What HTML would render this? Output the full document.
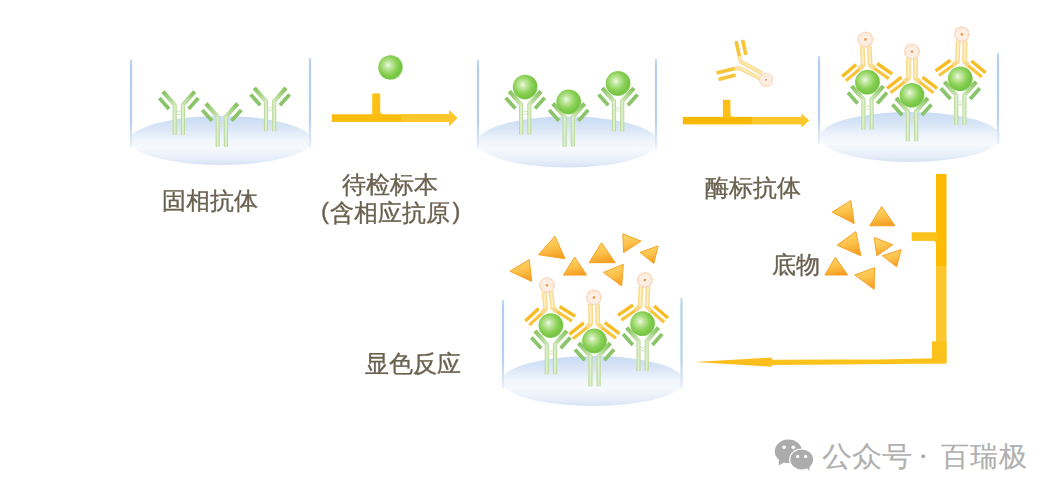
<!DOCTYPE html>
<html><head><meta charset="utf-8"><style>
html,body{margin:0;padding:0;background:#fff;width:1059px;height:498px;overflow:hidden}
body{position:relative;font-family:"Liberation Sans",sans-serif}
.t{position:absolute;white-space:nowrap;line-height:1;-webkit-text-stroke:0.35px #6a6150}
.w{position:absolute;white-space:nowrap;line-height:1;font-size:28px;color:#b0b0b0;-webkit-text-stroke:0.15px #b0b0b0;transform-origin:0 0;transform:scaleX(1.075)}
</style></head><body>
<svg width="1059" height="498" viewBox="0 0 1059 498" style="position:absolute;left:0;top:0">
<defs>
<filter id="soft" x="-5%" y="-5%" width="110%" height="110%"><feGaussianBlur stdDeviation="0.35"/></filter>
<linearGradient id="gEll" x1="0" y1="0" x2="0" y2="1">
 <stop offset="0" stop-color="#c9dbf3"/>
 <stop offset="0.25" stop-color="#d9e6f7"/>
 <stop offset="0.5" stop-color="#f2f6fc"/>
 <stop offset="0.65" stop-color="#f6f9fd"/>
 <stop offset="0.88" stop-color="#e6eef9"/>
 <stop offset="1" stop-color="#d6e2f5"/>
</linearGradient>
<linearGradient id="gWall" x1="0" y1="0" x2="0" y2="1">
 <stop offset="0" stop-color="#c8dcf3"/>
 <stop offset="0.08" stop-color="#b2cdee"/>
 <stop offset="0.7" stop-color="#b6d0ef"/>
 <stop offset="1" stop-color="#eaf1fb"/>
</linearGradient>
<linearGradient id="gDiagL" gradientUnits="userSpaceOnUse" x1="-15.8" y1="-43.2" x2="-4.1" y2="-30">
 <stop offset="0" stop-color="#84c25e"/>
 <stop offset="0.45" stop-color="#a4d384"/>
 <stop offset="1" stop-color="#cfe6b8"/>
</linearGradient>
<linearGradient id="gDiagR" gradientUnits="userSpaceOnUse" x1="15.8" y1="-43.2" x2="4.1" y2="-30">
 <stop offset="0" stop-color="#84c25e"/>
 <stop offset="0.45" stop-color="#a4d384"/>
 <stop offset="1" stop-color="#cfe6b8"/>
</linearGradient>
<radialGradient id="gBall" cx="0.42" cy="0.42" r="0.6" fx="0.4" fy="0.4">
 <stop offset="0" stop-color="#eef9e4"/>
 <stop offset="0.25" stop-color="#bfe69c"/>
 <stop offset="0.62" stop-color="#88d054"/>
 <stop offset="0.9" stop-color="#74c342"/>
 <stop offset="1" stop-color="#94d46e"/>
</radialGradient>
<linearGradient id="gTri" x1="0.35" y1="0" x2="0.6" y2="1">
 <stop offset="0" stop-color="#fdd66e"/>
 <stop offset="0.5" stop-color="#fcc24a"/>
 <stop offset="1" stop-color="#f59c22"/>
</linearGradient>
<g id="abg">
 <path d="M-4.1,0 V-30 L-15.8,-43.2 M4.1,0 V-30 L15.8,-43.2" fill="none" stroke="#bddb9e" stroke-width="4.2"/>
 <path d="M-4.1,0 V-30 L-14.7,-42 M4.1,0 V-30 L14.7,-42" fill="none" stroke="#dcefcb" stroke-width="2"/>
 <path d="M-4.1,-30 L-15.8,-43.2" stroke="url(#gDiagL)" stroke-width="3.9"/>
 <path d="M4.1,-30 L15.8,-43.2" stroke="url(#gDiagR)" stroke-width="3.9"/>
 <path d="M-1.8,-23.2 H1.8 M-1.8,-20.4 H1.8" stroke="#cfe5b7" stroke-width="1"/>
 <path d="M-19.5,-36.8 L-9.8,-26 M19.5,-36.8 L9.8,-26" stroke="#8bc56a" stroke-width="3.8"/>
</g>


</defs>
<g filter="url(#soft)">
<ellipse cx="221" cy="140.5" rx="91" ry="24.5" fill="url(#gEll)"/><rect x="129.9" y="59.5" width="2.2" height="88.0" fill="url(#gWall)"/><rect x="308.9" y="58" width="2.2" height="89.5" fill="url(#gWall)"/><ellipse cx="567.5" cy="142" rx="90" ry="25.5" fill="url(#gEll)"/><rect x="476.9" y="60" width="2.2" height="89" fill="url(#gWall)"/><rect x="654.9" y="59" width="2.2" height="90" fill="url(#gWall)"/><ellipse cx="910" cy="137" rx="90.5" ry="25" fill="url(#gEll)"/><rect x="817.9" y="56" width="2.2" height="88" fill="url(#gWall)"/><rect x="996.9" y="53" width="2.2" height="91" fill="url(#gWall)"/><ellipse cx="593" cy="381" rx="91" ry="25" fill="url(#gEll)"/><rect x="501.9" y="300" width="2.2" height="88" fill="url(#gWall)"/><rect x="680.4" y="298" width="2.2" height="90" fill="url(#gWall)"/><use href="#abg" x="178.8" y="134.9"/><use href="#abg" x="221.8" y="146.8"/><use href="#abg" x="270.1" y="131.2"/><use href="#abg" x="525.2" y="134.6"/><circle cx="525.2" cy="87.1" r="12.4" fill="url(#gBall)"/><use href="#abg" x="568.7" y="146.8"/><circle cx="568.7" cy="102.00000000000001" r="12.4" fill="url(#gBall)"/><use href="#abg" x="618.1" y="131.3"/><circle cx="618.1" cy="83.50000000000001" r="12.4" fill="url(#gBall)"/><g transform="translate(867.5,82.2) rotate(-2.8)"><path d="M-3.5,-36.2 V-17.5 L-7.5,-13.3 M3.5,-36.2 V-17.5 L7.5,-13.3" fill="none" stroke="#fbd98a" stroke-width="4.8"/><path d="M-3.5,-36.2 V-17.5 M3.5,-36.2 V-17.5" fill="none" stroke="#fdefc6" stroke-width="2"/><path d="M-21.5,-2.5 L-7.5,-13.3 M21.5,-2.5 L7.5,-13.3" stroke="#f8c43c" stroke-width="3.2"/><path d="M-25,-7 L-10.5,-18.2 M25,-7 L10.5,-18.2" stroke="#f6bd26" stroke-width="3.4"/><circle cx="0" cy="-42.7" r="7" fill="#fff4ec" stroke="#f9d0b0" stroke-width="2" stroke-dasharray="1.5 0.7"/><circle cx="0" cy="-42.7" r="4.2" fill="none" stroke="#fbe2cf" stroke-width="0.9"/><circle cx="0" cy="-42.7" r="1.5" fill="#eea25e"/></g><use href="#abg" x="867.5" y="129.4"/><circle cx="867.5" cy="82.2" r="12.4" fill="url(#gBall)"/><g transform="translate(912,95.30000000000001) rotate(0)"><path d="M-3.5,-37.3 V-17.5 L-7.5,-13.3 M3.5,-37.3 V-17.5 L7.5,-13.3" fill="none" stroke="#fbd98a" stroke-width="4.8"/><path d="M-3.5,-37.3 V-17.5 M3.5,-37.3 V-17.5" fill="none" stroke="#fdefc6" stroke-width="2"/><path d="M-21.5,-2.5 L-7.5,-13.3 M21.5,-2.5 L7.5,-13.3" stroke="#f8c43c" stroke-width="3.2"/><path d="M-25,-7 L-10.5,-18.2 M25,-7 L10.5,-18.2" stroke="#f6bd26" stroke-width="3.4"/><circle cx="0" cy="-43.8" r="7" fill="#fff4ec" stroke="#f9d0b0" stroke-width="2" stroke-dasharray="1.5 0.7"/><circle cx="0" cy="-43.8" r="4.2" fill="none" stroke="#fbe2cf" stroke-width="0.9"/><circle cx="0" cy="-43.8" r="1.5" fill="#eea25e"/></g><use href="#abg" x="912" y="141.3"/><circle cx="912" cy="95.30000000000001" r="12.4" fill="url(#gBall)"/><g transform="translate(960.3,78.8) rotate(2)"><path d="M-3.5,-38.0 V-17.5 L-7.5,-13.3 M3.5,-38.0 V-17.5 L7.5,-13.3" fill="none" stroke="#fbd98a" stroke-width="4.8"/><path d="M-3.5,-38.0 V-17.5 M3.5,-38.0 V-17.5" fill="none" stroke="#fdefc6" stroke-width="2"/><path d="M-21.5,-2.5 L-7.5,-13.3 M21.5,-2.5 L7.5,-13.3" stroke="#f8c43c" stroke-width="3.2"/><path d="M-25,-7 L-10.5,-18.2 M25,-7 L10.5,-18.2" stroke="#f6bd26" stroke-width="3.4"/><circle cx="0" cy="-44.5" r="7" fill="#fff4ec" stroke="#f9d0b0" stroke-width="2" stroke-dasharray="1.5 0.7"/><circle cx="0" cy="-44.5" r="4.2" fill="none" stroke="#fbe2cf" stroke-width="0.9"/><circle cx="0" cy="-44.5" r="1.5" fill="#eea25e"/></g><use href="#abg" x="960.3" y="125.1"/><circle cx="960.3" cy="78.8" r="12.4" fill="url(#gBall)"/><g transform="translate(550.9,325.59999999999997) rotate(-5.5)"><path d="M-3.5,-34.0 V-17.5 L-7.5,-13.3 M3.5,-34.0 V-17.5 L7.5,-13.3" fill="none" stroke="#fbd98a" stroke-width="4.8"/><path d="M-3.5,-34.0 V-17.5 M3.5,-34.0 V-17.5" fill="none" stroke="#fdefc6" stroke-width="2"/><path d="M-21.5,-2.5 L-7.5,-13.3 M21.5,-2.5 L7.5,-13.3" stroke="#f8c43c" stroke-width="3.2"/><path d="M-25,-7 L-10.5,-18.2 M25,-7 L10.5,-18.2" stroke="#f6bd26" stroke-width="3.4"/><circle cx="0" cy="-40.5" r="7" fill="#fff4ec" stroke="#f9d0b0" stroke-width="2" stroke-dasharray="1.5 0.7"/><circle cx="0" cy="-40.5" r="4.2" fill="none" stroke="#fbe2cf" stroke-width="0.9"/><circle cx="0" cy="-40.5" r="1.5" fill="#eea25e"/></g><use href="#abg" x="550.9" y="374.2"/><circle cx="550.9" cy="325.59999999999997" r="12.4" fill="url(#gBall)"/><g transform="translate(594.5,341.0) rotate(-0.8)"><path d="M-3.5,-37.0 V-17.5 L-7.5,-13.3 M3.5,-37.0 V-17.5 L7.5,-13.3" fill="none" stroke="#fbd98a" stroke-width="4.8"/><path d="M-3.5,-37.0 V-17.5 M3.5,-37.0 V-17.5" fill="none" stroke="#fdefc6" stroke-width="2"/><path d="M-21.5,-2.5 L-7.5,-13.3 M21.5,-2.5 L7.5,-13.3" stroke="#f8c43c" stroke-width="3.2"/><path d="M-25,-7 L-10.5,-18.2 M25,-7 L10.5,-18.2" stroke="#f6bd26" stroke-width="3.4"/><circle cx="0" cy="-43.5" r="7" fill="#fff4ec" stroke="#f9d0b0" stroke-width="2" stroke-dasharray="1.5 0.7"/><circle cx="0" cy="-43.5" r="4.2" fill="none" stroke="#fbe2cf" stroke-width="0.9"/><circle cx="0" cy="-43.5" r="1.5" fill="#eea25e"/></g><use href="#abg" x="594.5" y="386.3"/><circle cx="594.5" cy="341.0" r="12.4" fill="url(#gBall)"/><g transform="translate(642.6,323.7) rotate(3)"><path d="M-3.5,-37.3 V-17.5 L-7.5,-13.3 M3.5,-37.3 V-17.5 L7.5,-13.3" fill="none" stroke="#fbd98a" stroke-width="4.8"/><path d="M-3.5,-37.3 V-17.5 M3.5,-37.3 V-17.5" fill="none" stroke="#fdefc6" stroke-width="2"/><path d="M-21.5,-2.5 L-7.5,-13.3 M21.5,-2.5 L7.5,-13.3" stroke="#f8c43c" stroke-width="3.2"/><path d="M-25,-7 L-10.5,-18.2 M25,-7 L10.5,-18.2" stroke="#f6bd26" stroke-width="3.4"/><circle cx="0" cy="-43.8" r="7" fill="#fff4ec" stroke="#f9d0b0" stroke-width="2" stroke-dasharray="1.5 0.7"/><circle cx="0" cy="-43.8" r="4.2" fill="none" stroke="#fbe2cf" stroke-width="0.9"/><circle cx="0" cy="-43.8" r="1.5" fill="#eea25e"/></g><use href="#abg" x="642.6" y="370.9"/><circle cx="642.6" cy="323.7" r="12.4" fill="url(#gBall)"/><circle cx="390.5" cy="67.5" r="12.2" fill="url(#gBall)"/><rect x="331.8" y="114.3" width="120" height="7.6" fill="#fbbc0a"/><rect x="401.6" y="114.3" width="50" height="7.6" fill="#fdc62a"/><path d="M449,109.8 L457.5,118.1 L449,126.4 Z" fill="#fdc62a"/><rect x="372.2" y="93.5" width="8" height="22" fill="#fcbf14"/><path d="M380,110.5 Q380.2,114.5 384.5,114.5 L380,115 Z" fill="#fcbf14"/><rect x="682.8" y="116.9" width="70" height="7.5" fill="#fbb800"/><rect x="752.8" y="116.9" width="50" height="7.5" fill="#fdc72c"/><path d="M801.4,113.4 L809.3,120.6 L801.4,127.8 Z" fill="#fdc72c"/><rect x="722.9" y="99.8" width="7.5" height="18" fill="#fcbf14"/><path d="M730.2,113 Q730.4,117 734.5,117 L730.2,117.5 Z" fill="#fcbf14"/><rect x="936" y="174" width="10.5" height="92" fill="#fcbb00"/><rect x="936" y="266" width="10.5" height="97" fill="#fdc62a"/><rect x="911.7" y="232.2" width="26" height="8.7" fill="#fcc21e"/><path d="M932,240.8 Q936,240.8 936.3,245 L936.3,240.5 Z" fill="#fcc21e"/><rect x="932" y="341.3" width="14.5" height="22" fill="#fcc21e"/><path d="M946,358 L880,359.5 L772,359.8 L772,365 L946,363.5 Z" fill="#fcc21e"/><path d="M694.5,362 L772,357.4 L772,366.8 Z" fill="#fbbe1a"/><polygon points="832.2,212.1 850.8,200.6 854.3,223.6" fill="url(#gTri)" stroke="#f5a226" stroke-width="1" stroke-linejoin="round"/><polygon points="881.7,206.6 869.7,225.8 894.9,225.8" fill="url(#gTri)" stroke="#f5a226" stroke-width="1" stroke-linejoin="round"/><polygon points="837.1,245.2 855.8,231.5 860.9,255.8" fill="url(#gTri)" stroke="#f5a226" stroke-width="1" stroke-linejoin="round"/><polygon points="874.2,237.5 892.7,244.7 876.8,255.8" fill="url(#gTri)" stroke="#f5a226" stroke-width="1" stroke-linejoin="round"/><polygon points="882.3,255.8 901.1,249.6 896.7,266.8" fill="url(#gTri)" stroke="#f5a226" stroke-width="1" stroke-linejoin="round"/><polygon points="835.3,257.3 824.9,275.0 847.7,275.0" fill="url(#gTri)" stroke="#f5a226" stroke-width="1" stroke-linejoin="round"/><polygon points="854.7,275.0 874.6,267.7 874.2,289.3" fill="url(#gTri)" stroke="#f5a226" stroke-width="1" stroke-linejoin="round"/><polygon points="510.0,271.2 529.2,259.5 531.8,281.5" fill="url(#gTri)" stroke="#f5a226" stroke-width="1" stroke-linejoin="round"/><polygon points="554.9,236.2 538.5,254.7 565.0,258.7" fill="url(#gTri)" stroke="#f5a226" stroke-width="1" stroke-linejoin="round"/><polygon points="574.6,257.1 563.4,275.1 586.7,275.1" fill="url(#gTri)" stroke="#f5a226" stroke-width="1" stroke-linejoin="round"/><polygon points="601.5,242.7 589.1,262.7 615.3,262.7" fill="url(#gTri)" stroke="#f5a226" stroke-width="1" stroke-linejoin="round"/><polygon points="622.8,233.8 641.0,241.1 623.6,252.6" fill="url(#gTri)" stroke="#f5a226" stroke-width="1" stroke-linejoin="round"/><polygon points="640.0,252.3 658.1,245.9 653.8,263.5" fill="url(#gTri)" stroke="#f5a226" stroke-width="1" stroke-linejoin="round"/><polygon points="603.5,272.4 623.3,264.3 621.7,286.0" fill="url(#gTri)" stroke="#f5a226" stroke-width="1" stroke-linejoin="round"/><g>
 <path d="M739.4,56.1 L740.6,61.5 L762,73.5 M734.8,68.5 L739.5,68.2 L760,78.5" fill="none" stroke="#fbd888" stroke-width="3.8" stroke-linejoin="round"/>
 <path d="M739.4,56.1 L740.6,61.5 L762,73.5 M734.8,68.5 L739.5,68.2 L760,78.5" fill="none" stroke="#fdedc0" stroke-width="1.4" stroke-linejoin="round"/>
 <path d="M736.1,41.1 L739.4,56.1 M742.6,39.8 L745.9,54.8" stroke="#f8c437" stroke-width="3.6"/>
 <path d="M716.5,73.1 L734.8,68.5 M718.5,79.6 L735.5,75" stroke="#f8c437" stroke-width="3.6"/>
 <circle cx="766" cy="79.8" r="6.4" fill="#fef3ea" stroke="#f9cfb0" stroke-width="1.7" stroke-dasharray="1.3 0.9"/>
 <circle cx="766" cy="79.8" r="3.8" fill="none" stroke="#fbe0cc" stroke-width="0.8"/>
 <circle cx="766" cy="79.8" r="1.1" fill="#ea9466"/>
</g></g></svg>
<div class="t" style="left:162px;top:189px;font-size:23.8px;color:#6a6150;">固相抗体</div><div class="t" style="left:342px;top:173px;font-size:23.8px;color:#6a6150;">待检标本</div><div class="t" style="left:321px;top:201px;font-size:23.8px;color:#6a6150;"><span style="position:relative;top:-2.5px;margin-right:1.5px">(</span>含相应抗原<span style="position:relative;top:-2.5px;margin-left:2px">)</span></div><div class="t" style="left:705px;top:176px;font-size:23.8px;color:#6a6150;">酶标抗体</div><div class="t" style="left:771.5px;top:253px;font-size:23.8px;color:#6a6150;">底物</div><div class="t" style="left:365px;top:352px;font-size:23.8px;color:#6a6150;">显色反应</div>
<div class="w" style="left:821.5px;top:442.5px;letter-spacing:0px">公众号</div>
<div class="w" style="left:941px;top:442.5px;transform:scaleX(1.0);letter-spacing:0.8px">百瑞极</div>
<svg style="position:absolute;left:0;top:0" width="1059" height="498">
 <circle cx="923.2" cy="456.3" r="2" fill="#acacac"/>
 <ellipse cx="788.4" cy="451.3" rx="13.6" ry="11.8" fill="#acacac"/>
 <path d="M779,460 L778.5,465.5 L786,461.5 Z" fill="#acacac"/>
 <circle cx="784.1" cy="447.2" r="1.8" fill="#fff"/>
 <circle cx="793.3" cy="447.2" r="1.8" fill="#fff"/>
 <ellipse cx="801.7" cy="459.5" rx="12.6" ry="11" fill="#fff"/>
 <ellipse cx="801.7" cy="459.5" rx="11.4" ry="9.9" fill="#acacac"/>
 <path d="M806,467 L809.5,471 L809.5,465.5 Z" fill="#acacac"/>
 <circle cx="797.6" cy="456.4" r="1.6" fill="#fff"/>
 <circle cx="805.6" cy="456.4" r="1.6" fill="#fff"/>
</svg>
</body></html>
